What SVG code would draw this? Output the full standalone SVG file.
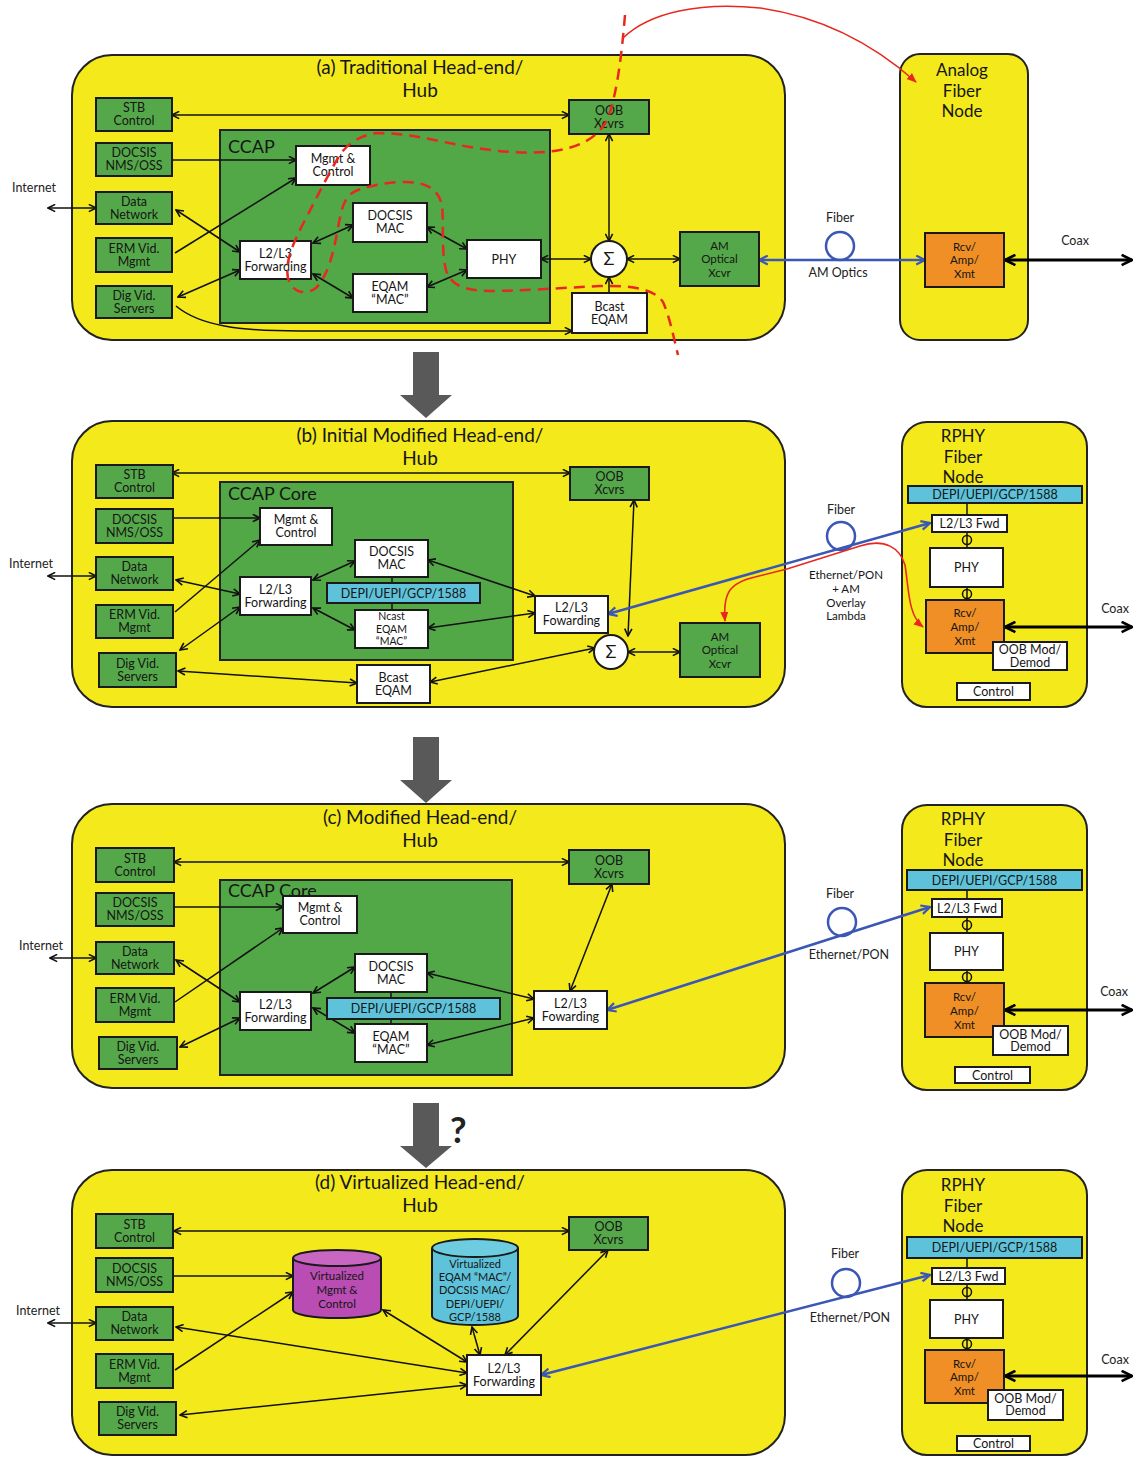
<svg xmlns="http://www.w3.org/2000/svg" width="1135" height="1458" viewBox="0 0 1135 1458">
<defs>
<style>
.panel{fill:#F4E91B;stroke:#222;stroke-width:2}
.node{fill:#F4E91B;stroke:#222;stroke-width:2}
.ccap{fill:#52A747;stroke:#222;stroke-width:2}
.g{fill:#55A84A;stroke:#1a1a1a;stroke-width:2}
.w{fill:#fff;stroke:#1a1a1a;stroke-width:2}
.o{fill:#EF8F26;stroke:#1a1a1a;stroke-width:2}
.c{fill:#5EC3DA;stroke:#1a1a1a;stroke-width:2}
.t{font-family:Lato,"Liberation Sans",sans-serif;font-size:12.5px;text-anchor:middle;fill:#151515}
.t3{font-family:Lato,"Liberation Sans",sans-serif;font-size:11.5px;text-anchor:middle;fill:#151515}
.ts{font-family:Lato,"Liberation Sans",sans-serif;font-size:12.5px;text-anchor:middle;fill:#222}
.tt{font-family:Lato,"Liberation Sans",sans-serif;font-size:19px;text-anchor:middle;fill:#151515}
.tn{font-family:Lato,"Liberation Sans",sans-serif;font-size:17px;text-anchor:middle;fill:#151515}
.tc{font-family:Lato,"Liberation Sans",sans-serif;font-size:18px;fill:#151515}
.ln{stroke:#111;stroke-width:1.5;fill:none;marker-start:url(#ah);marker-end:url(#ah)}
.l1{stroke:#111;stroke-width:1.5;fill:none;marker-end:url(#ah)}
.sl{stroke:#111;stroke-width:1.5;fill:none}
.bl{stroke:#3A57B5;stroke-width:2.5;fill:none;marker-start:url(#bh);marker-end:url(#bh)}
.loop{stroke:#3A57B5;stroke-width:2.5;fill:none}
.cx{stroke:#000;stroke-width:3;fill:none;marker-start:url(#kh);marker-end:url(#kh)}
.rd{stroke:#E8281E;stroke-width:2.5;fill:none;stroke-dasharray:11 7}
.rs{stroke:#E8281E;stroke-width:1.6;fill:none}
.big{fill:#595959}
</style>
<marker id="ah" viewBox="0 0 10 10" refX="9" refY="5" markerWidth="9" markerHeight="9" markerUnits="userSpaceOnUse" orient="auto-start-reverse"><path d="M1,1 L9,5 L1,9" fill="none" stroke="#111" stroke-width="1.8"/></marker>
<marker id="bh" viewBox="0 0 10 10" refX="9" refY="5" markerWidth="11" markerHeight="11" markerUnits="userSpaceOnUse" orient="auto-start-reverse"><path d="M1,1 L9,5 L1,9" fill="none" stroke="#3A57B5" stroke-width="2"/></marker>
<marker id="kh" viewBox="0 0 10 10" refX="9" refY="5" markerWidth="13" markerHeight="13" markerUnits="userSpaceOnUse" orient="auto-start-reverse"><path d="M1,1 L9,5 L1,9" fill="none" stroke="#000" stroke-width="2"/></marker>
<marker id="rh" viewBox="0 0 10 10" refX="9" refY="5" markerWidth="10" markerHeight="10" markerUnits="userSpaceOnUse" orient="auto-start-reverse"><path d="M0,1 L10,5 L0,9 Z" fill="#E8281E"/></marker>
</defs>
<rect width="1135" height="1458" fill="#fff"/>

<!-- ===== containers ===== -->
<g id="panel-a"><rect class="panel" x="72" y="55" width="713" height="285" rx="40"/><text class="tt" x="420" y="74">(a) Traditional Head-end/<tspan x="420" dy="23">Hub</tspan></text></g>
<g id="panel-b"><rect class="panel" x="72" y="421" width="713" height="286" rx="40"/><text class="tt" x="420" y="442">(b) Initial Modified Head-end/<tspan x="420" dy="23">Hub</tspan></text></g>
<g id="panel-c"><rect class="panel" x="72" y="804" width="713" height="284" rx="40"/><text class="tt" x="420" y="824">(c) Modified Head-end/<tspan x="420" dy="23">Hub</tspan></text></g>
<g id="panel-d"><rect class="panel" x="72" y="1170" width="713" height="285" rx="40"/><text class="tt" x="420" y="1189">(d) Virtualized Head-end/<tspan x="420" dy="23">Hub</tspan></text></g>

<g id="afn"><rect class="node" x="900" y="54" width="128" height="286" rx="20"/><text class="tn" x="962" y="76">Analog<tspan x="962" dy="20.5">Fiber</tspan><tspan x="962" dy="20.5">Node</tspan></text></g>
<g id="rphy-b"><rect class="node" x="902" y="422" width="185" height="285" rx="25"/><text class="tn" x="963" y="442">RPHY<tspan x="963" dy="20.5">Fiber</tspan><tspan x="963" dy="20.5">Node</tspan></text></g>
<g id="rphy-c"><rect class="node" x="902" y="805" width="185" height="285" rx="25"/><text class="tn" x="963" y="825">RPHY<tspan x="963" dy="20.5">Fiber</tspan><tspan x="963" dy="20.5">Node</tspan></text></g>
<g id="rphy-d"><rect class="node" x="902" y="1170" width="185" height="285" rx="25"/><text class="tn" x="963" y="1191">RPHY<tspan x="963" dy="20.5">Fiber</tspan><tspan x="963" dy="20.5">Node</tspan></text></g>

<g id="ccap-a"><rect class="ccap" x="220" y="130" width="330" height="193"/><text class="tc" x="228" y="153">CCAP</text></g>
<g id="ccap-b"><rect class="ccap" x="220" y="482" width="293" height="178"/><text class="tc" x="228" y="500">CCAP Core</text></g>
<g id="ccap-c"><rect class="ccap" x="220" y="880" width="292" height="195"/><text class="tc" x="228" y="897">CCAP Core</text></g>

<!-- big transition arrows -->
<g id="transitions">
<polygon class="big" points="413,352 439,352 439,395 452,395 426,418 400,395 413,395"/>
<polygon class="big" points="413,737 439,737 439,780 452,780 426,803 400,780 413,780"/>
<polygon class="big" points="413,1103 439,1103 439,1146 452,1146 426,1168 400,1146 413,1146"/>
<text x="450" y="1143" font-family="Lato,'Liberation Sans',sans-serif" font-size="36" font-weight="bold" fill="#222">?</text>
</g>

<!-- ===== connectors ===== -->
<g id="connectors">
<!-- (a) -->
<line class="ln" x1="48" y1="208" x2="96" y2="208"/>
<line class="ln" x1="172" y1="115" x2="569" y2="115"/>
<line class="l1" x1="172" y1="160" x2="296" y2="160"/>
<line class="l1" x1="175" y1="253" x2="296" y2="178"/>
<line class="ln" x1="176" y1="210" x2="240" y2="252"/>
<line class="ln" x1="178" y1="297" x2="240" y2="270"/>
<line class="ln" x1="313" y1="243" x2="353" y2="225"/>
<line class="ln" x1="313" y1="274" x2="353" y2="298"/>
<line class="ln" x1="427" y1="227" x2="467" y2="249"/>
<line class="ln" x1="427" y1="287" x2="467" y2="270"/>
<line class="ln" x1="541" y1="259" x2="591" y2="259"/>
<line class="ln" x1="627" y1="259" x2="680" y2="259"/>
<line class="ln" x1="609" y1="134" x2="609" y2="241"/>
<line class="l1" x1="609" y1="293" x2="609" y2="277"/>
<path class="l1" d="M176,306 C200,326 240,331 300,331 L572,331"/>
<line class="bl" x1="759" y1="260" x2="925" y2="260"/>
<circle class="loop" cx="840" cy="246" r="14"/>
<line class="cx" x1="1005" y1="260" x2="1132" y2="260"/>
<!-- (b) -->
<line class="ln" x1="48" y1="576" x2="96" y2="576"/>
<line class="ln" x1="172" y1="473" x2="570" y2="473"/>
<line class="l1" x1="172" y1="518" x2="260" y2="518"/>
<line class="l1" x1="175" y1="612" x2="260" y2="540"/>
<line class="ln" x1="176" y1="580" x2="240" y2="594"/>
<line class="ln" x1="180" y1="650" x2="240" y2="607"/>
<line class="ln" x1="313" y1="580" x2="355" y2="561"/>
<line class="ln" x1="313" y1="608" x2="355" y2="630"/>
<line class="ln" x1="178" y1="671" x2="357" y2="683"/>
<line class="ln" x1="428" y1="560" x2="535" y2="596"/>
<line class="ln" x1="428" y1="628" x2="535" y2="613"/>
<line class="ln" x1="430" y1="682" x2="595" y2="648"/>
<line class="ln" x1="634" y1="500" x2="628" y2="636"/>
<line class="ln" x1="628" y1="652" x2="680" y2="652"/>
<line class="sl" x1="392" y1="577" x2="392" y2="583"/>
<line class="sl" x1="392" y1="603" x2="392" y2="610"/>
<line class="bl" x1="608" y1="614" x2="930" y2="523"/>
<circle class="loop" cx="841" cy="536" r="14"/>
<line class="cx" x1="1005" y1="627" x2="1132" y2="627"/>
<line class="sl" x1="967" y1="503" x2="967" y2="515"/>
<line class="sl" x1="967" y1="532" x2="967" y2="548"/>
<line class="sl" x1="967" y1="587" x2="967" y2="600"/>
<!-- (c) -->
<line class="ln" x1="50" y1="958" x2="96" y2="958"/>
<line class="ln" x1="174" y1="862" x2="569" y2="862"/>
<line class="l1" x1="174" y1="907" x2="283" y2="907"/>
<line class="l1" x1="175" y1="1002" x2="283" y2="928"/>
<line class="ln" x1="176" y1="960" x2="240" y2="1002"/>
<line class="ln" x1="180" y1="1047" x2="240" y2="1018"/>
<line class="ln" x1="313" y1="993" x2="355" y2="967"/>
<line class="ln" x1="313" y1="1008" x2="355" y2="1033"/>
<line class="ln" x1="427" y1="973" x2="534" y2="999"/>
<line class="ln" x1="427" y1="1045" x2="534" y2="1018"/>
<line class="ln" x1="612" y1="884" x2="570" y2="991"/>
<line class="sl" x1="391" y1="992" x2="391" y2="998"/>
<line class="sl" x1="391" y1="1019" x2="391" y2="1024"/>
<line class="bl" x1="607" y1="1010" x2="930" y2="907"/>
<circle class="loop" cx="842" cy="922" r="14"/>
<line class="cx" x1="1005" y1="1010" x2="1132" y2="1010"/>
<line class="sl" x1="967" y1="890" x2="967" y2="899"/>
<line class="sl" x1="967" y1="917" x2="967" y2="933"/>
<line class="sl" x1="967" y1="970" x2="967" y2="983"/>
<!-- (d) -->
<line class="ln" x1="48" y1="1323" x2="96" y2="1323"/>
<line class="ln" x1="174" y1="1231" x2="569" y2="1231"/>
<line class="l1" x1="174" y1="1276" x2="293" y2="1276"/>
<line class="l1" x1="175" y1="1370" x2="293" y2="1292"/>
<line class="ln" x1="176" y1="1327" x2="467" y2="1373"/>
<line class="ln" x1="180" y1="1415" x2="467" y2="1385"/>
<line class="ln" x1="383" y1="1310" x2="467" y2="1362"/>
<line class="ln" x1="472" y1="1327" x2="480" y2="1355"/>
<line class="ln" x1="608" y1="1250" x2="505" y2="1355"/>
<line class="bl" x1="541" y1="1375" x2="930" y2="1275"/>
<circle class="loop" cx="846" cy="1283" r="14"/>
<line class="cx" x1="1005" y1="1376" x2="1132" y2="1376"/>
<line class="sl" x1="967" y1="1258" x2="967" y2="1268"/>
<line class="sl" x1="967" y1="1284" x2="967" y2="1300"/>
<line class="sl" x1="967" y1="1338" x2="967" y2="1350"/>
</g>

<!-- connector labels -->
<g id="labels">
<text class="ts" x="34" y="192">Internet</text>
<text class="ts" x="31" y="568">Internet</text>
<text class="ts" x="41" y="950">Internet</text>
<text class="ts" x="38" y="1315">Internet</text>
<text class="ts" x="840" y="222">Fiber</text>
<text class="ts" x="838" y="277">AM Optics</text>
<text class="ts" x="1075" y="245">Coax</text>
<text class="ts" x="841" y="514">Fiber</text>
<text class="t3" x="846" y="579">Ethernet/PON<tspan x="846" dy="13.8">+ AM</tspan><tspan x="846" dy="13.8">Overlay</tspan><tspan x="846" dy="13.8">Lambda</tspan></text>
<text class="ts" x="1115" y="613">Coax</text>
<text class="ts" x="840" y="898">Fiber</text>
<text class="ts" x="849" y="959">Ethernet/PON</text>
<text class="ts" x="1114" y="996">Coax</text>
<text class="ts" x="845" y="1258">Fiber</text>
<text class="ts" x="850" y="1322">Ethernet/PON</text>
<text class="ts" x="1115" y="1364">Coax</text>
</g>

<!-- ===== nodes (a) ===== -->
<g id="a-stb"><rect class="g" x="96" y="98" width="76" height="33"/><text class="t" x="134" y="112">STB<tspan x="134" dy="13">Control</tspan></text></g>
<g id="a-docsis"><rect class="g" x="96" y="143" width="76" height="33"/><text class="t" x="134" y="157">DOCSIS<tspan x="134" dy="13">NMS/OSS</tspan></text></g>
<g id="a-data"><rect class="g" x="96" y="192" width="76" height="32"/><text class="t" x="134" y="206">Data<tspan x="134" dy="13">Network</tspan></text></g>
<g id="a-erm"><rect class="g" x="96" y="238" width="76" height="34"/><text class="t" x="134" y="253">ERM Vid.<tspan x="134" dy="13">Mgmt</tspan></text></g>
<g id="a-dig"><rect class="g" x="96" y="286" width="76" height="32"/><text class="t" x="134" y="300">Dig Vid.<tspan x="134" dy="13">Servers</tspan></text></g>
<g id="a-mgmt"><rect class="w" x="296" y="146" width="74" height="39"/><text class="t" x="333" y="163">Mgmt &amp;<tspan x="333" dy="13">Control</tspan></text></g>
<g id="a-l2l3"><rect class="w" x="240" y="241" width="71" height="38"/><text class="t" x="275.5" y="258">L2/L3<tspan x="275.5" dy="13">Forwarding</tspan></text></g>
<g id="a-docmac"><rect class="w" x="353" y="203" width="74" height="39"/><text class="t" x="390" y="220">DOCSIS<tspan x="390" dy="13">MAC</tspan></text></g>
<g id="a-eqam"><rect class="w" x="353" y="274" width="74" height="38"/><text class="t" x="390" y="291">EQAM<tspan x="390" dy="13">“MAC”</tspan></text></g>
<g id="a-phy"><rect class="w" x="467" y="240" width="74" height="38"/><text class="t" x="504" y="263.5">PHY</text></g>
<g id="a-sum"><circle class="w" cx="609" cy="259" r="18"/><text class="t" x="609" y="265" style="font-size:18px">Σ</text></g>
<g id="a-oob"><rect class="g" x="569" y="100" width="80" height="34"/><text class="t" x="609" y="115">OOB<tspan x="609" dy="13">Xcvrs</tspan></text></g>
<g id="a-amox"><rect class="g" x="680" y="232" width="79" height="54"/><text class="t3" x="719.5" y="249.5">AM<tspan x="719.5" dy="13.8">Optical</tspan><tspan x="719.5" dy="13.8">Xcvr</tspan></text></g>
<g id="a-bcast"><rect class="w" x="572" y="293" width="75" height="40"/><text class="t" x="609.5" y="311">Bcast<tspan x="609.5" dy="13">EQAM</tspan></text></g>
<g id="a-rcv"><rect class="o" x="925" y="233" width="79" height="54"/><text class="t3" x="964.5" y="250.5">Rcv/<tspan x="964.5" dy="13.8">Amp/</tspan><tspan x="964.5" dy="13.8">Xmt</tspan></text></g>

<!-- ===== nodes (b) ===== -->
<g id="b-stb"><rect class="g" x="96" y="465" width="77" height="33"/><text class="t" x="134.5" y="479">STB<tspan x="134.5" dy="13">Control</tspan></text></g>
<g id="b-docsis"><rect class="g" x="96" y="509" width="77" height="34"/><text class="t" x="134.5" y="524">DOCSIS<tspan x="134.5" dy="13">NMS/OSS</tspan></text></g>
<g id="b-data"><rect class="g" x="96" y="557" width="77" height="33"/><text class="t" x="134.5" y="571">Data<tspan x="134.5" dy="13">Network</tspan></text></g>
<g id="b-erm"><rect class="g" x="96" y="605" width="77" height="33"/><text class="t" x="134.5" y="619">ERM Vid.<tspan x="134.5" dy="13">Mgmt</tspan></text></g>
<g id="b-dig"><rect class="g" x="99" y="653" width="77" height="34"/><text class="t" x="137.5" y="668">Dig Vid.<tspan x="137.5" dy="13">Servers</tspan></text></g>
<g id="b-mgmt"><rect class="w" x="260" y="508" width="72" height="37"/><text class="t" x="296" y="524">Mgmt &amp;<tspan x="296" dy="13">Control</tspan></text></g>
<g id="b-l2l3"><rect class="w" x="240" y="577" width="71" height="38"/><text class="t" x="275.5" y="594">L2/L3<tspan x="275.5" dy="13">Forwarding</tspan></text></g>
<g id="b-docmac"><rect class="w" x="355" y="540" width="73" height="37"/><text class="t" x="391.5" y="556">DOCSIS<tspan x="391.5" dy="13">MAC</tspan></text></g>
<g id="b-depi"><rect class="c" x="327" y="583" width="153" height="20"/><text class="t" x="403.5" y="597.5">DEPI/UEPI/GCP/1588</text></g>
<g id="b-ncast"><rect class="w" x="355" y="610" width="73" height="38"/><text class="t3" x="391.5" y="620" style="font-size:10.5px">Ncast<tspan x="391.5" dy="12.6">EQAM</tspan><tspan x="391.5" dy="12.6">“MAC”</tspan></text></g>
<g id="b-bcast"><rect class="w" x="357" y="665" width="73" height="38"/><text class="t" x="393.5" y="682">Bcast<tspan x="393.5" dy="13">EQAM</tspan></text></g>
<g id="b-l2l3f"><rect class="w" x="535" y="596" width="73" height="37"/><text class="t" x="571.5" y="612">L2/L3<tspan x="571.5" dy="13">Fowarding</tspan></text></g>
<g id="b-oob"><rect class="g" x="570" y="467" width="79" height="33"/><text class="t" x="609.5" y="481">OOB<tspan x="609.5" dy="13">Xcvrs</tspan></text></g>
<g id="b-sum"><circle class="w" cx="611" cy="652" r="17"/><text class="t" x="611" y="658" style="font-size:18px">Σ</text></g>
<g id="b-amox"><rect class="g" x="680" y="623" width="80" height="54"/><text class="t3" x="720" y="640.5">AM<tspan x="720" dy="13.8">Optical</tspan><tspan x="720" dy="13.8">Xcvr</tspan></text></g>
<g id="b-rdepi"><rect class="c" x="908" y="486" width="174" height="17"/><text class="t" x="995" y="499">DEPI/UEPI/GCP/1588</text></g>
<g id="b-rfwd"><rect class="w" x="932" y="515" width="75" height="17"/><text class="t" x="969.5" y="528">L2/L3 Fwd</text></g>
<g id="b-rphy"><rect class="w" x="930" y="548" width="73" height="39"/><text class="t" x="966.5" y="572">PHY</text></g>
<g id="b-rcv"><rect class="o" x="926" y="600" width="78" height="53"/><text class="t3" x="965" y="617">Rcv/<tspan x="965" dy="13.8">Amp/</tspan><tspan x="965" dy="13.8">Xmt</tspan></text></g>
<g id="b-oobm"><rect class="w" x="993" y="642" width="74" height="28"/><text class="t" x="1030" y="654">OOB  Mod/<tspan x="1030" dy="12.5">Demod</tspan></text></g>
<g id="b-ctl"><rect class="w" x="957" y="683" width="73" height="17"/><text class="t" x="993.5" y="696">Control</text></g>
<g id="b-phi"><circle cx="967" cy="540" r="4.5" fill="none" stroke="#111" stroke-width="1.5"/><circle cx="967" cy="594" r="4.5" fill="none" stroke="#111" stroke-width="1.5"/></g>

<!-- ===== nodes (c) ===== -->
<g id="c-stb"><rect class="g" x="96" y="848" width="78" height="34"/><text class="t" x="135" y="863">STB<tspan x="135" dy="13">Control</tspan></text></g>
<g id="c-docsis"><rect class="g" x="96" y="893" width="78" height="33"/><text class="t" x="135" y="907">DOCSIS<tspan x="135" dy="13">NMS/OSS</tspan></text></g>
<g id="c-data"><rect class="g" x="96" y="942" width="78" height="32"/><text class="t" x="135" y="956">Data<tspan x="135" dy="13">Network</tspan></text></g>
<g id="c-erm"><rect class="g" x="96" y="988" width="78" height="34"/><text class="t" x="135" y="1003">ERM Vid.<tspan x="135" dy="13">Mgmt</tspan></text></g>
<g id="c-dig"><rect class="g" x="99" y="1037" width="78" height="32"/><text class="t" x="138" y="1051">Dig Vid.<tspan x="138" dy="13">Servers</tspan></text></g>
<g id="c-mgmt"><rect class="w" x="283" y="896" width="74" height="37"/><text class="t" x="320" y="912">Mgmt &amp;<tspan x="320" dy="13">Control</tspan></text></g>
<g id="c-l2l3"><rect class="w" x="240" y="992" width="71" height="38"/><text class="t" x="275.5" y="1009">L2/L3<tspan x="275.5" dy="13">Forwarding</tspan></text></g>
<g id="c-docmac"><rect class="w" x="355" y="954" width="72" height="38"/><text class="t" x="391" y="971">DOCSIS<tspan x="391" dy="13">MAC</tspan></text></g>
<g id="c-depi"><rect class="c" x="327" y="998" width="173" height="21"/><text class="t" x="413.5" y="1013">DEPI/UEPI/GCP/1588</text></g>
<g id="c-eqam"><rect class="w" x="355" y="1024" width="72" height="38"/><text class="t" x="391" y="1041">EQAM<tspan x="391" dy="13">“MAC”</tspan></text></g>
<g id="c-l2l3f"><rect class="w" x="534" y="991" width="73" height="38"/><text class="t" x="570.5" y="1008">L2/L3<tspan x="570.5" dy="13">Fowarding</tspan></text></g>
<g id="c-oob"><rect class="g" x="569" y="850" width="80" height="34"/><text class="t" x="609" y="865">OOB<tspan x="609" dy="13">Xcvrs</tspan></text></g>
<g id="c-rdepi"><rect class="c" x="907" y="870" width="175" height="20"/><text class="t" x="994.5" y="884.5">DEPI/UEPI/GCP/1588</text></g>
<g id="c-rfwd"><rect class="w" x="932" y="899" width="70" height="18"/><text class="t" x="967" y="912.5">L2/L3 Fwd</text></g>
<g id="c-rphy"><rect class="w" x="930" y="933" width="73" height="37"/><text class="t" x="966.5" y="956">PHY</text></g>
<g id="c-rcv"><rect class="o" x="925" y="983" width="79" height="54"/><text class="t3" x="964.5" y="1001">Rcv/<tspan x="964.5" dy="13.8">Amp/</tspan><tspan x="964.5" dy="13.8">Xmt</tspan></text></g>
<g id="c-oobm"><rect class="w" x="993" y="1026" width="75" height="29"/><text class="t" x="1030.5" y="1038.5">OOB  Mod/<tspan x="1030.5" dy="12.5">Demod</tspan></text></g>
<g id="c-ctl"><rect class="w" x="955" y="1067" width="75" height="16"/><text class="t" x="992.5" y="1079.5">Control</text></g>
<g id="c-phi"><circle cx="967" cy="925" r="4.5" fill="none" stroke="#111" stroke-width="1.5"/><circle cx="967" cy="977" r="4.5" fill="none" stroke="#111" stroke-width="1.5"/></g>

<!-- ===== nodes (d) ===== -->
<g id="d-stb"><rect class="g" x="96" y="1214" width="77" height="34"/><text class="t" x="134.5" y="1229">STB<tspan x="134.5" dy="13">Control</tspan></text></g>
<g id="d-docsis"><rect class="g" x="96" y="1258" width="77" height="34"/><text class="t" x="134.5" y="1273">DOCSIS<tspan x="134.5" dy="13">NMS/OSS</tspan></text></g>
<g id="d-data"><rect class="g" x="96" y="1307" width="77" height="33"/><text class="t" x="134.5" y="1321">Data<tspan x="134.5" dy="13">Network</tspan></text></g>
<g id="d-erm"><rect class="g" x="96" y="1354" width="77" height="34"/><text class="t" x="134.5" y="1369">ERM Vid.<tspan x="134.5" dy="13">Mgmt</tspan></text></g>
<g id="d-dig"><rect class="g" x="99" y="1402" width="77" height="33"/><text class="t" x="137.5" y="1416">Dig Vid.<tspan x="137.5" dy="13">Servers</tspan></text></g>
<g id="d-vmgmt"><path d="M293,1258 L293,1310 A44,8 0 0 0 381,1310 L381,1258" fill="#B94DB3" stroke="#1a1a1a" stroke-width="2"/><ellipse cx="337" cy="1258" rx="44" ry="8" fill="#C866C2" stroke="#1a1a1a" stroke-width="2"/><text class="t3" x="337" y="1280">Virtualized<tspan x="337" dy="13.8">Mgmt &amp;</tspan><tspan x="337" dy="13.8">Control</tspan></text></g>
<g id="d-vmac"><path d="M432,1248 L432,1316 A43,9 0 0 0 518,1316 L518,1248" fill="#5EC3DA" stroke="#1a1a1a" stroke-width="2"/><ellipse cx="475" cy="1248" rx="43" ry="9" fill="#6ECCE0" stroke="#1a1a1a" stroke-width="2"/><text class="t3" x="475" y="1268" style="font-size:11px">Virtualized<tspan x="475" dy="13.2">EQAM “MAC”/</tspan><tspan x="475" dy="13.2">DOCSIS MAC/</tspan><tspan x="475" dy="13.2">DEPI/UEPI/</tspan><tspan x="475" dy="13.2">GCP/1588</tspan></text></g>
<g id="d-l2l3"><rect class="w" x="467" y="1355" width="74" height="40"/><text class="t" x="504" y="1373">L2/L3<tspan x="504" dy="13">Forwarding</tspan></text></g>
<g id="d-oob"><rect class="g" x="569" y="1217" width="79" height="33"/><text class="t" x="608.5" y="1231">OOB<tspan x="608.5" dy="13">Xcvrs</tspan></text></g>
<g id="d-rdepi"><rect class="c" x="907" y="1237" width="175" height="21"/><text class="t" x="994.5" y="1252">DEPI/UEPI/GCP/1588</text></g>
<g id="d-rfwd"><rect class="w" x="932" y="1268" width="73" height="16"/><text class="t" x="968.5" y="1280.5">L2/L3 Fwd</text></g>
<g id="d-rphy"><rect class="w" x="930" y="1300" width="73" height="38"/><text class="t" x="966.5" y="1323.5">PHY</text></g>
<g id="d-rcv"><rect class="o" x="925" y="1350" width="79" height="53"/><text class="t3" x="964.5" y="1367.5">Rcv/<tspan x="964.5" dy="13.8">Amp/</tspan><tspan x="964.5" dy="13.8">Xmt</tspan></text></g>
<g id="d-oobm"><rect class="w" x="988" y="1390" width="75" height="30"/><text class="t" x="1025.5" y="1402.5">OOB  Mod/<tspan x="1025.5" dy="12.5">Demod</tspan></text></g>
<g id="d-ctl"><rect class="w" x="957" y="1436" width="73" height="15"/><text class="t" x="993.5" y="1448">Control</text></g>
<g id="d-phi"><circle cx="967" cy="1292" r="4.5" fill="none" stroke="#111" stroke-width="1.5"/><circle cx="967" cy="1344" r="4.5" fill="none" stroke="#111" stroke-width="1.5"/></g>

<!-- ===== red overlays ===== -->
<g id="red">
<path class="rd" d="M625,15 C622,50 618,90 608,118 C600,135 585,145 560,150 C530,155 500,152 470,147 C440,142 410,133 377,133 C360,135 345,145 338,158 C328,175 318,195 305,220 C292,245 285,262 288,278 C292,292 305,296 316,288 C328,275 333,255 338,228 C342,205 345,195 358,190 C372,185 390,182 405,182 C425,182 438,188 442,205 C444,225 441,250 446,270 C450,285 465,291 490,291 C520,291 560,288 600,286 C635,285 655,290 663,302 C670,318 673,335 678,355"/>
<path class="rs" d="M623,38 C650,12 700,2 760,8 C830,18 880,50 916,82" marker-end="url(#rh)"/>
<path class="rs" d="M725,621 C723,595 728,583 755,577 L787,569 L860,546 C885,538 900,548 905,565 C909,590 908,615 923,627" marker-start="url(#rh)" marker-end="url(#rh)"/>
</g>
</svg>
